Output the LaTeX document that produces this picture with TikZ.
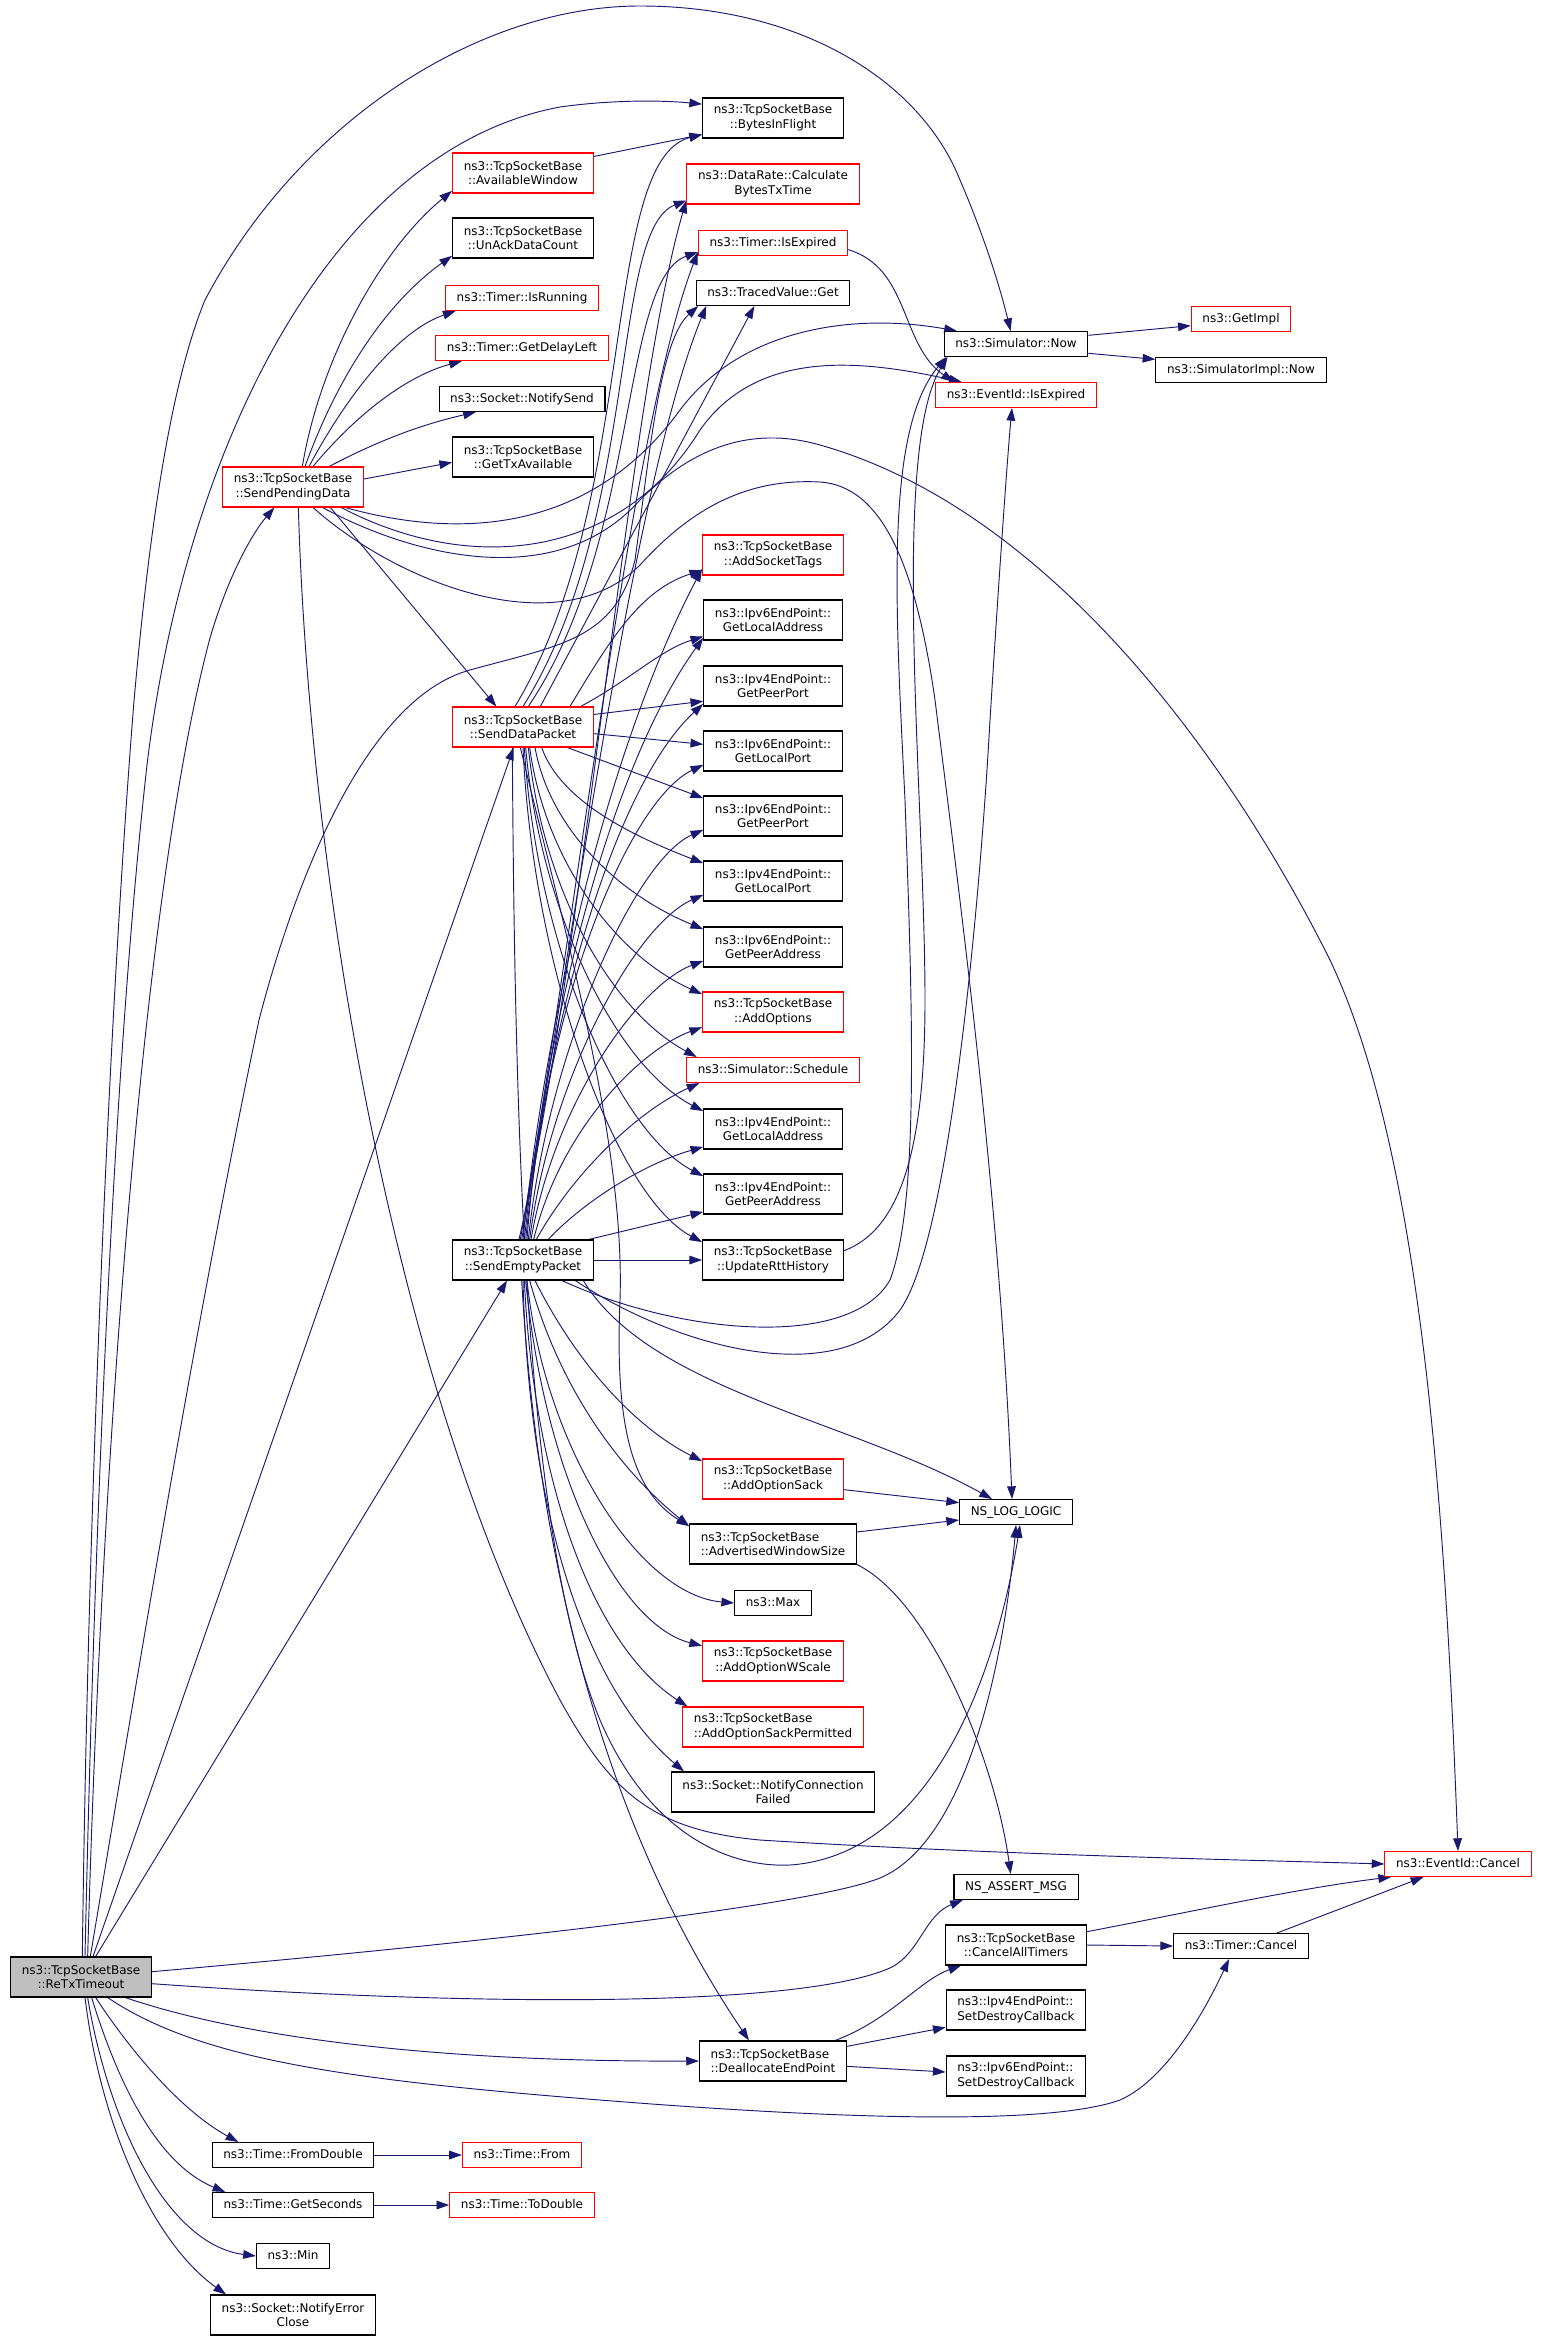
\documentclass[tikz,border=0pt]{standalone}
\usepackage{fontspec}
\setmainfont{DejaVu Sans}
\usetikzlibrary{arrows.meta,backgrounds}
\definecolor{callblue}{HTML}{191970}
\definecolor{hotred}{HTML}{FF0000}
\definecolor{rootgray}{HTML}{BFBFBF}

\begin{document}
\begin{tikzpicture}[x=0.75pt,y=-0.75pt,
  fn node/.style={draw=black,fill=white,line width=0.8pt,inner xsep=8.4pt,inner ysep=0pt,font=\fontsize{9}{11.2}\selectfont},
  one/.style={fn node,minimum height=18.75pt,text height=6.9pt,text depth=1.9pt},
  two/.style={fn node,minimum height=30pt,align=center},
  twol/.style={fn node,minimum height=30pt,align=left},
  hot/.style={draw=hotred},
  root/.style={fill=rootgray},
  call/.style={-{Triangle[length=9.5pt,width=6.5pt]},draw=callblue,line width=0.7pt}]

\useasboundingbox (0,0) rectangle (1541,2340);

% column 0 and 1
\node[two,root] (rtx) at (81,1977) {ns3::TcpSocketBase\\::ReTxTimeout};
\node[two,hot] (spd) at (293,487) {ns3::TcpSocketBase\\::SendPendingData};
\node[one] (fromd) at (293,2155) {ns3::Time::FromDouble};
\node[one] (getsec) at (293,2205) {ns3::Time::GetSeconds};
\node[one] (tmin) at (293,2256) {ns3::Min};
\node[two] (nerr) at (293,2315) {ns3::Socket::NotifyError\\Close};

% column 2
\node[two,hot] (awin) at (523,173) {ns3::TcpSocketBase\\::AvailableWindow};
\node[two] (unack) at (523,238) {ns3::TcpSocketBase\\::UnAckDataCount};
\node[one,hot] (isrun) at (522,298) {ns3::Timer::IsRunning};
\node[one,hot] (delay) at (522,348) {ns3::Timer::GetDelayLeft};
\node[one] (nsend) at (522,399) {ns3::Socket::NotifySend};
\node[two] (txav) at (523,457) {ns3::TcpSocketBase\\::GetTxAvailable};
\node[two,hot] (sdp) at (523,727) {ns3::TcpSocketBase\\::SendDataPacket};
\node[two] (sep) at (523,1260) {ns3::TcpSocketBase\\::SendEmptyPacket};
\node[one,hot] (tfrom) at (522,2155) {ns3::Time::From};
\node[one,hot] (todbl) at (522,2205) {ns3::Time::ToDouble};

% column 3
\node[two] (bif) at (773,118) {ns3::TcpSocketBase\\::BytesInFlight};
\node[two,hot] (drate) at (773,184) {ns3::DataRate::Calculate\\BytesTxTime};
\node[one,hot] (tiexp) at (773,243) {ns3::Timer::IsExpired};
\node[one] (tvget) at (773,293) {ns3::TracedValue::Get};
\node[two,hot] (tags) at (773,555) {ns3::TcpSocketBase\\::AddSocketTags};
\node[two] (v6la) at (773,620) {ns3::Ipv6EndPoint::\\GetLocalAddress};
\node[two] (v4pp) at (773,686) {ns3::Ipv4EndPoint::\\GetPeerPort};
\node[two] (v6lp) at (773,751) {ns3::Ipv6EndPoint::\\GetLocalPort};
\node[two] (v6pp) at (773,816) {ns3::Ipv6EndPoint::\\GetPeerPort};
\node[two] (v4lp) at (773,881) {ns3::Ipv4EndPoint::\\GetLocalPort};
\node[two] (v6pa) at (773,947) {ns3::Ipv6EndPoint::\\GetPeerAddress};
\node[two,hot] (opts) at (773,1012) {ns3::TcpSocketBase\\::AddOptions};
\node[one,hot] (sched) at (773,1070) {ns3::Simulator::Schedule};
\node[two] (v4la) at (773,1129) {ns3::Ipv4EndPoint::\\GetLocalAddress};
\node[two] (v4pa) at (773,1194) {ns3::Ipv4EndPoint::\\GetPeerAddress};
\node[two] (rtth) at (773,1260) {ns3::TcpSocketBase\\::UpdateRttHistory};
\node[two,hot] (osack) at (773,1479) {ns3::TcpSocketBase\\::AddOptionSack};
\node[twol] (advw) at (773,1544) {ns3::TcpSocketBase\\::AdvertisedWindowSize};
\node[one] (tmax) at (773,1603) {ns3::Max};
\node[two,hot] (wscale) at (773,1661) {ns3::TcpSocketBase\\::AddOptionWScale};
\node[twol,hot] (sackp) at (773,1727) {ns3::TcpSocketBase\\::AddOptionSackPermitted};
\node[two] (ncf) at (773,1792) {ns3::Socket::NotifyConnection\\Failed};
\node[twol] (dealloc) at (773,2061) {ns3::TcpSocketBase\\::DeallocateEndPoint};

% column 4 to 6
\node[one] (now) at (1016,344) {ns3::Simulator::Now};
\node[one,hot] (eexp) at (1016,395) {ns3::EventId::IsExpired};
\node[one] (nllog) at (1016,1512) {NS\_LOG\_LOGIC};
\node[one] (nsassert) at (1016,1887) {NS\_ASSERT\_MSG};
\node[two] (cancall) at (1016,1945) {ns3::TcpSocketBase\\::CancelAllTimers};
\node[twol] (v4sdc) at (1016,2010) {ns3::Ipv4EndPoint::\\SetDestroyCallback};
\node[twol] (v6sdc) at (1016,2076) {ns3::Ipv6EndPoint::\\SetDestroyCallback};
\node[one,hot] (gimpl) at (1241,319) {ns3::GetImpl};
\node[one] (simnow) at (1241,370) {ns3::SimulatorImpl::Now};
\node[one] (tcancel) at (1241,1946) {ns3::Timer::Cancel};
\node[one,hot] (ecancel) at (1458,1864) {ns3::EventId::Cancel};

\begin{scope}[on background layer]
% from ReTxTimeout
\draw[call] ([xshift=1pt]rtx.north) .. controls (88,1500) and (110,1000) .. (134,701) .. controls (150,520) and (172,380) .. (205,300) .. controls (300,120) and (480,6) .. (640,6) .. controls (800,6) and (920,80) .. (960,180) .. controls (990,250) and (1003,300) .. ([xshift=-4pt]now.north);
\draw[call] ([xshift=3pt]rtx.north) .. controls (95,1500) and (115,1050) .. (147,765) .. controls (185,450) and (330,150) .. (560,107) .. controls (610,100) and (660,100) .. ([yshift=-5pt]bif.north west);
\draw[call] ([xshift=5pt]rtx.north) .. controls (100,1500) and (140,900) .. (210,638) .. controls (230,570) and (255,530) .. ([xshift=-14pt]spd.south);
\draw[call] ([xshift=7pt]rtx.north) .. controls (150,1600) and (200,1300) .. (259,1020) .. controls (290,900) and (360,700) .. (470,670) .. controls (560,645) and (615,640) .. (635,560) .. controls (650,450) and (660,340) .. ([xshift=2pt]tvget.south west);
\draw[call] ([xshift=9pt]rtx.north) -- ([xshift=-7pt]sdp.south);
\draw[call] ([xshift=11pt]rtx.north) -- ([xshift=-12pt]sep.south);
\draw[call] ([yshift=4pt]rtx.east) .. controls (400,1950) and (800,1910) .. (880,1878) .. controls (970,1840) and (1005,1650) .. (nllog.south);
\draw[call] ([yshift=-5pt]rtx.east) .. controls (450,2005) and (800,2010) .. (892,1967) .. controls (920,1952) and (925,1915) .. ([xshift=7pt]nsassert.south west);
\draw[call] ([xshift=-20pt]rtx.south east) .. controls (250,2040) and (450,2062) .. (dealloc.west);
\draw[call] ([xshift=20pt]rtx.south) .. controls (200,2060) and (350,2080) .. (600,2100) .. controls (850,2120) and (1050,2125) .. (1120,2100) .. controls (1170,2078) and (1210,2000) .. ([xshift=-9pt]tcancel.south);
\draw[call] ([xshift=11pt]rtx.south) .. controls (130,2050) and (180,2110) .. ([xshift=20pt]fromd.north west);
\draw[call] ([xshift=8pt]rtx.south) .. controls (120,2090) and (160,2165) .. ([xshift=10pt]getsec.north west);
\draw[call] ([xshift=5pt]rtx.south) .. controls (110,2130) and (170,2245) .. (tmin.west);
\draw[call] ([xshift=3pt]rtx.south) .. controls (100,2120) and (150,2240) .. ([xshift=12pt]nerr.north west);

% from SendPendingData
\draw[call] ([xshift=7pt]spd.north) .. controls (320,360) and (380,250) .. ([yshift=2pt]awin.south west);
\draw[call] ([xshift=9pt]spd.north) .. controls (340,370) and (390,300) .. ([yshift=2pt]unack.south west);
\draw[call] ([xshift=12pt]spd.north) .. controls (350,390) and (400,330) .. ([xshift=8pt]isrun.south west);
\draw[call] ([xshift=15pt]spd.north) .. controls (360,410) and (410,375) .. ([xshift=20pt]delay.south west);
\draw[call] ([xshift=27pt]spd.north) .. controls (380,440) and (420,425) .. ([xshift=28pt]nsend.south west);
\draw[call] ([yshift=6pt]spd.east) -- ([yshift=-4pt]txav.west);
\draw[call] ([xshift=28pt]spd.south) -- ([xshift=-20pt]sdp.north);
\draw[call] ([xshift=-14pt]spd.south east) .. controls (480,545) and (600,520) .. (680,410) .. controls (740,330) and (850,312) .. ([xshift=10pt]now.north west);
\draw[call] ([xshift=-17pt]spd.south east) .. controls (470,575) and (620,560) .. (700,430) .. controls (760,345) and (870,362) .. ([xshift=20pt]eexp.north west);
\draw[call] ([xshift=-31pt]spd.south east) .. controls (420,560) and (560,590) .. (640,500) .. controls (700,440) and (760,428) .. (820,445) .. controls (1050,510) and (1230,760) .. (1330,960) .. controls (1420,1150) and (1445,1500) .. (ecancel.north);
\draw[call] ([xshift=15pt]spd.south) .. controls (400,585) and (560,645) .. (640,565) .. controls (690,510) and (745,478) .. (820,482) .. controls (880,486) and (915,560) .. (935,700) .. controls (960,900) and (1000,1200) .. ([xshift=-3pt]nllog.north);
\draw[call] ([xshift=4pt]spd.south) .. controls (310,900) and (400,1400) .. (560,1700) .. controls (610,1790) and (650,1830) .. (760,1840) .. controls (1000,1855) and (1250,1860) .. (ecancel.west);

% from SendDataPacket
\draw[call] ([xshift=-6pt]sdp.north) .. controls (640,500) and (600,160) .. ([yshift=3pt]bif.south west);
\draw[call] (sdp.north) .. controls (640,520) and (610,230) .. ([yshift=3pt]drate.south west);
\draw[call] ([xshift=4pt]sdp.north) .. controls (640,540) and (620,280) .. ([yshift=3pt]tiexp.south west);
\draw[call] ([xshift=13pt]sdp.north) -- ([xshift=-14pt]tvget.south);
\draw[call] ([xshift=-18pt]sdp.north east) .. controls (610,640) and (640,590) .. ([yshift=4pt]tags.south west);
\draw[call] ([xshift=-10pt]sdp.north east) .. controls (630,680) and (660,650) .. ([yshift=3pt]v6la.south west);
\draw[call] ([yshift=-6pt]sdp.north east) -- ([yshift=4pt]v4pp.south west);
\draw[call] ([yshift=-5pt]sdp.east) -- ([yshift=5pt]v6lp.west);
\draw[call] ([xshift=-20pt]sdp.south east) -- ([yshift=-2pt]v6pp.north west);
\draw[call] ([xshift=14pt]sdp.south) .. controls (560,800) and (630,835) .. ([yshift=-2pt]v4lp.north west);
\draw[call] ([xshift=9pt]sdp.south) .. controls (550,830) and (620,895) .. ([yshift=-2pt]v6pa.north west);
\draw[call] ([xshift=5pt]sdp.south) .. controls (545,860) and (615,955) .. ([yshift=-2pt]opts.north west);
\draw[call] ([xshift=4pt]sdp.south) .. controls (543,890) and (610,1010) .. ([xshift=8pt]sched.north west);
\draw[call] ([xshift=2pt]sdp.south) .. controls (540,910) and (615,1065) .. ([yshift=-2pt]v4la.north west);
\draw[call] ([xshift=1pt]sdp.south) .. controls (536,940) and (615,1130) .. ([yshift=-2pt]v4pa.north west);
\draw[call] (sdp.south) .. controls (533,970) and (615,1195) .. ([yshift=-2pt]rtth.north west);
\draw[call] ([xshift=-2pt]sdp.south) .. controls (570,950) and (625,1150) .. (620,1300) .. controls (615,1420) and (630,1490) .. ([yshift=-2pt]advw.north west);
\draw[call] ([xshift=-8pt]sdp.south) .. controls (515,1200) and (530,1550) .. (600,1720) .. controls (645,1825) and (720,1868) .. (790,1865) .. controls (930,1855) and (995,1680) .. ([xshift=3pt]nllog.south);

% from SendEmptyPacket
\draw[call] ([xshift=-3pt]sep.north) .. controls (585,950) and (628,400) .. ([yshift=3pt]drate.south west);
\draw[call] ([xshift=-2pt]sep.north) .. controls (575,930) and (630,430) .. ([yshift=3pt]tiexp.south west);
\draw[call] ([xshift=-1pt]sep.north) .. controls (575,920) and (635,480) .. ([xshift=8pt]tvget.south west);
\draw[call] (sep.north) .. controls (548,1000) and (612,740) .. ([yshift=5pt]tags.south west);
\draw[call] ([xshift=1pt]sep.north) .. controls (550,1000) and (615,760) .. ([yshift=2pt]v6la.south west);
\draw[call] ([xshift=2pt]sep.north) .. controls (550,1000) and (620,780) .. ([yshift=2pt]v4pp.south west);
\draw[call] ([xshift=3pt]sep.north) .. controls (545,1000) and (630,800) .. ([yshift=5pt]v6lp.south west);
\draw[call] ([xshift=4pt]sep.north) .. controls (548,1050) and (635,860) .. ([yshift=5pt]v6pp.south west);
\draw[call] ([xshift=5pt]sep.north) .. controls (550,1080) and (635,925) .. ([yshift=5pt]v4lp.south west);
\draw[call] ([xshift=6pt]sep.north) .. controls (555,1100) and (640,985) .. ([yshift=5pt]v6pa.south west);
\draw[call] ([xshift=8pt]sep.north) .. controls (560,1130) and (640,1050) .. ([yshift=4pt]opts.south west);
\draw[call] ([xshift=10pt]sep.north) .. controls (575,1170) and (640,1110) .. ([xshift=10pt]sched.south west);
\draw[call] ([xshift=19pt]sep.north) .. controls (580,1205) and (640,1165) .. ([yshift=2pt]v4la.south west);
\draw[call] ([xshift=-4pt]sep.north east) -- ([yshift=2pt]v4pa.south west);
\draw[call] (sep.east) -- (rtth.west);
\draw[call] ([xshift=9pt]sep.south) .. controls (580,1370) and (640,1430) .. ([yshift=-2pt]osack.north west);
\draw[call] ([xshift=5pt]sep.south) .. controls (560,1390) and (620,1470) .. ([yshift=-2pt]advw.north west);
\draw[call] ([xshift=3pt]sep.south) .. controls (545,1450) and (640,1595) .. (tmax.west);
\draw[call] ([xshift=2pt]sep.south) .. controls (545,1480) and (620,1625) .. ([yshift=-4pt]wscale.north west);
\draw[call] ([xshift=1pt]sep.south) .. controls (535,1500) and (600,1650) .. ([xshift=4pt]sackp.north west);
\draw[call] (sep.south) .. controls (530,1550) and (600,1700) .. ([xshift=10pt]ncf.north west);
\draw[call] ([xshift=-1pt]sep.south) .. controls (540,1600) and (620,1850) .. ([xshift=-18pt]dealloc.north);
\draw[call] ([xshift=-24pt]sep.south east) .. controls (680,1335) and (850,1350) .. (890,1280) .. controls (920,1200) and (912,1000) .. (905,800) .. controls (895,600) and (885,430) .. ([xshift=2pt]now.south west);
\draw[call] ([xshift=-14pt]sep.south east) .. controls (680,1350) and (840,1390) .. (900,1310) .. controls (950,1240) and (980,900) .. (990,720) .. controls (1000,560) and (1008,450) .. ([xshift=-3pt]eexp.south);
\draw[call] ([xshift=-8pt]sep.south east) .. controls (650,1390) and (850,1420) .. ([xshift=-18pt]nllog.north);

% the rest
\draw[call] ([yshift=-3pt]awin.north east) -- ([yshift=3pt]bif.south west);
\draw[call] ([yshift=-5pt]tiexp.east) .. controls (910,268) and (900,345) .. ([xshift=14pt]eexp.north west);
\draw[call] ([yshift=7pt]rtth.east) .. controls (900,1230) and (925,1150) .. (925,1000) .. controls (925,800) and (890,450) .. ([xshift=3pt]now.south west);
\draw[call] ([yshift=6.5pt]now.east) -- ([yshift=-5pt]gimpl.west);
\draw[call] ([yshift=-7pt]now.east) -- ([yshift=8pt]simnow.west);
\draw[call] ([yshift=-8pt]osack.east) -- ([yshift=7pt]nllog.west);
\draw[call] ([yshift=9pt]advw.east) -- ([yshift=-6pt]nllog.west);
\draw[call] (advw.south east) .. controls (930,1600) and (995,1760) .. ([xshift=-4pt]nsassert.north);
\draw[call] ([xshift=-9pt]dealloc.north east) .. controls (890,2020) and (920,1980) .. ([xshift=12pt]cancall.south west);
\draw[call] ([yshift=11pt]dealloc.east) -- ([yshift=-13pt]v4sdc.west);
\draw[call] ([yshift=-4pt]dealloc.east) -- ([yshift=3pt]v6sdc.west);
\draw[call] ([yshift=10pt]cancall.east) .. controls (1200,1910) and (1300,1888) .. ([xshift=5pt]ecancel.south west);
\draw[call] (cancall.east) -- (tcancel.west);
\draw[call] ([xshift=27pt]tcancel.north) -- ([xshift=-26pt]ecancel.south);
\draw[call] (fromd) -- (tfrom);
\draw[call] (getsec) -- (todbl);
\end{scope}
\end{tikzpicture}
\end{document}
